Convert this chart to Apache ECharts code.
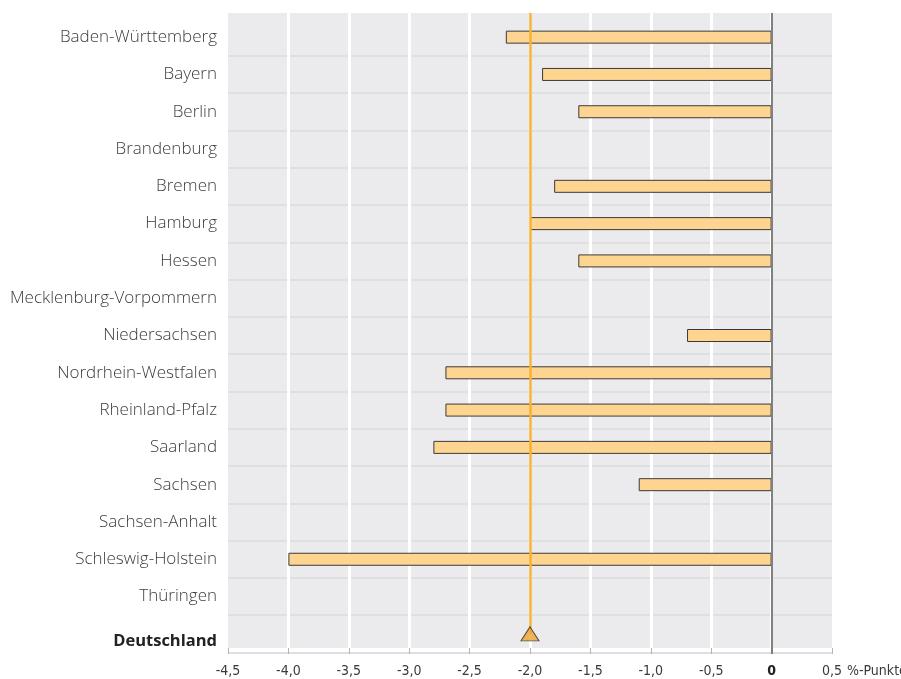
<!DOCTYPE html>
<html>
<head>
<meta charset="utf-8">
<script src="https://cdn.jsdelivr.net/npm/echarts@6/dist/echarts.min.js"></script>
<style>
  html, body { margin: 0; padding: 0; background: #ffffff; }
  #chart { width: 901px; height: 679px; }
</style>
</head>
<body>
<div id="chart"></div>
<script>
// Bundesländer, top to bottom, with the national value as the last row
const states = [
  'Baden-Württemberg', 'Bayern', 'Berlin', 'Brandenburg', 'Bremen', 'Hamburg',
  'Hessen', 'Mecklenburg-Vorpommern', 'Niedersachsen', 'Nordrhein-Westfalen',
  'Rheinland-Pfalz', 'Saarland', 'Sachsen', 'Sachsen-Anhalt',
  'Schleswig-Holstein', 'Thüringen', 'Deutschland'
];
// Change in %-Punkte per state (null = no value published)
const changes = [
  -2.2, -1.9, -1.6, null, -1.8, -2.0,
  -1.6, null, -0.7, -2.7,
  -2.7, -2.8, -1.1, null,
  -4.0, null, null
];
// National value, shown as a marker with a reference line
const germanyLabel = 'Deutschland';
const germanyValue = -2.0;
// Value axis range and step
const axisMin = -4.5, axisMax = 0.5, axisStep = 0.5;
const unitLabel = '%-Punkte';

// Layout
const PLOT_LEFT = 228, PLOT_W = 604;
const PLOT_TOP = 13, PLOT_H = 635;
const ROW_TOP = 18.5, ROW_H = 634;
const TICK_LEN = 6;

const NARROW = '"Liberation Sans Narrow", "DejaVu Sans Condensed", sans-serif';
const SANS = '"Open Sans", "Noto Sans", sans-serif';

const germanyIndex = states.indexOf(germanyLabel);

const chart = echarts.init(document.getElementById('chart'), null, { renderer: 'canvas' });

const fmtTick = v => {
  if (Math.abs(v) < 1e-9) return '{z|0}';
  return v.toFixed(1).replace('.', ',');
};

chart.setOption({
  animation: false,
  backgroundColor: '#ffffff',
  grid: [
    { left: PLOT_LEFT, top: PLOT_TOP, width: PLOT_W, height: PLOT_H,
      show: true, backgroundColor: '#ebebed', borderWidth: 0,
      containLabel: false, outerBoundsMode: 'none' },
    { left: PLOT_LEFT, top: ROW_TOP, width: PLOT_W, height: ROW_H,
      show: false, containLabel: false, outerBoundsMode: 'none' }
  ],
  xAxis: [
    {
      gridIndex: 0, type: 'value', min: axisMin, max: axisMax, interval: axisStep,
      axisLine: { show: false },
      axisTick: { show: true, length: TICK_LEN, lineStyle: { color: '#b4b4b4', width: 1 } },
      axisLabel: {
        margin: 16, formatter: fmtTick, color: '#3a3a3a',
        fontFamily: NARROW, fontSize: 14,
        rich: { z: { fontWeight: 'bold', fontSize: 14, color: '#222', fontFamily: NARROW } }
      },
      splitLine: { show: true, showMinLine: false, showMaxLine: false,
        lineStyle: { color: '#ffffff', width: 3 } },
      name: unitLabel, nameLocation: 'end', nameGap: 15, nameMoveOverlap: false,
      nameTextStyle: {
        color: '#3a3a3a', fontSize: 14, align: 'left', verticalAlign: 'top',
        padding: [16, 0, 0, 0], fontFamily: NARROW
      }
    },
    {
      gridIndex: 1, type: 'value', min: axisMin, max: axisMax, interval: axisStep,
      show: false, splitLine: { show: false }
    }
  ],
  yAxis: [
    { gridIndex: 0, type: 'value', show: false, min: 0, max: 1, splitLine: { show: false } },
    {
      gridIndex: 1, type: 'category', data: states, inverse: true,
      axisLine: { show: false }, axisTick: { show: false },
      axisLabel: {
        margin: 11, color: '#3c3c3c', fontSize: 17, fontWeight: 300,
        fontFamily: SANS,
        formatter: v => v === germanyLabel ? '{b|' + v + '}' : v,
        rich: { b: { fontWeight: 'bold', fontSize: 16.5, color: '#222',
          fontFamily: SANS, padding: [14, 0, 0, 0] } }
      },
      splitLine: {
        show: true,
        interval: (idx) => idx > 0,
        lineStyle: { color: '#dfdfe1', width: 2 }
      }
    }
  ],
  series: [
    {
      type: 'bar', xAxisIndex: 1, yAxisIndex: 1,
      data: changes, barWidth: 13,
      itemStyle: { color: '#fed590', borderColor: '#3a3a3a', borderWidth: 1 },
      z: 2
    },
    {
      type: 'scatter', xAxisIndex: 1, yAxisIndex: 1,
      data: [[germanyValue, germanyIndex]],
      symbol: 'triangle', symbolSize: [18, 14],
      itemStyle: { color: '#eba431', borderColor: '#2e2e2e', borderWidth: 1 },
      z: 4,
      markLine: {
        silent: true, symbol: 'none', z: 3,
        label: { show: false },
        emphasis: { disabled: true },
        data: [
          [
            { xAxis: 0, y: PLOT_TOP, lineStyle: { color: '#808080', width: 2, type: 'solid' } },
            { xAxis: 0, y: PLOT_TOP + PLOT_H + TICK_LEN }
          ],
          [
            { xAxis: germanyValue, y: PLOT_TOP, lineStyle: { color: '#f6b234', width: 2.5, type: 'solid' } },
            { coord: [germanyValue, germanyIndex] }
          ]
        ]
      }
    }
  ]
});
</script>
</body>
</html>
